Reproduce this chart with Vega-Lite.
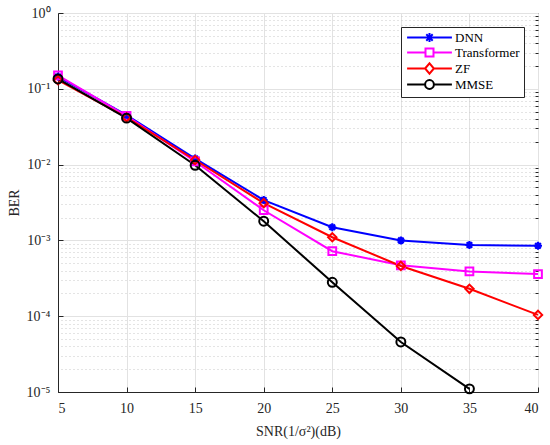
{
  "$schema": "https://vega.github.io/schema/vega-lite/v6.json",
  "width": 480,
  "height": 379,
  "autosize": {"type": "none"},
  "padding": {"left": 58, "top": 13, "right": 12, "bottom": 53},
  "background": "white",
  "data": {
    "values": [
      {"method": "DNN", "snr": 5, "ber": 0.145},
      {"method": "DNN", "snr": 10, "ber": 0.045},
      {"method": "DNN", "snr": 15, "ber": 0.012},
      {"method": "DNN", "snr": 20, "ber": 0.0034},
      {"method": "DNN", "snr": 25, "ber": 0.00149},
      {"method": "DNN", "snr": 30, "ber": 0.001},
      {"method": "DNN", "snr": 35, "ber": 0.00087},
      {"method": "DNN", "snr": 40, "ber": 0.00085},
      {"method": "Transformer", "snr": 5, "ber": 0.15},
      {"method": "Transformer", "snr": 10, "ber": 0.044},
      {"method": "Transformer", "snr": 15, "ber": 0.011},
      {"method": "Transformer", "snr": 20, "ber": 0.0025},
      {"method": "Transformer", "snr": 25, "ber": 0.00072},
      {"method": "Transformer", "snr": 30, "ber": 0.00047},
      {"method": "Transformer", "snr": 35, "ber": 0.00039},
      {"method": "Transformer", "snr": 40, "ber": 0.00036},
      {"method": "ZF", "snr": 5, "ber": 0.13},
      {"method": "ZF", "snr": 10, "ber": 0.042},
      {"method": "ZF", "snr": 15, "ber": 0.0115},
      {"method": "ZF", "snr": 20, "ber": 0.0031},
      {"method": "ZF", "snr": 25, "ber": 0.0011},
      {"method": "ZF", "snr": 30, "ber": 0.00046},
      {"method": "ZF", "snr": 35, "ber": 0.00023},
      {"method": "ZF", "snr": 40, "ber": 0.000104},
      {"method": "MMSE", "snr": 5, "ber": 0.135},
      {"method": "MMSE", "snr": 10, "ber": 0.041},
      {"method": "MMSE", "snr": 15, "ber": 0.0098},
      {"method": "MMSE", "snr": 20, "ber": 0.00179},
      {"method": "MMSE", "snr": 25, "ber": 0.00028},
      {"method": "MMSE", "snr": 30, "ber": 0.0000457},
      {"method": "MMSE", "snr": 35, "ber": 0.000011}
    ]
  },
  "layer": [
    {
      "mark": {"type": "point", "opacity": 0},
      "encoding": {
        "x": {"field": "snr", "type": "quantitative", "scale": {"domain": [5, 40], "nice": false, "zero": false}},
        "y": {
          "field": "ber",
          "type": "quantitative",
          "scale": {"type": "log", "domain": [0.00001, 1], "nice": false},
          "axis": {
            "orient": "right",
            "values": [0.00002, 0.00003, 0.00004, 0.00005, 0.00006, 0.00007, 0.00008, 0.00009,
                       0.0002, 0.0003, 0.0004, 0.0005, 0.0006, 0.0007, 0.0008, 0.0009,
                       0.002, 0.003, 0.004, 0.005, 0.006, 0.007, 0.008, 0.009,
                       0.02, 0.03, 0.04, 0.05, 0.06, 0.07, 0.08, 0.09,
                       0.2, 0.3, 0.4, 0.5, 0.6, 0.7, 0.8, 0.9],
            "labels": false,
            "title": null,
            "domain": false,
            "grid": true,
            "gridColor": "#c8c8c8",
            "gridDash": [1, 3],
            "gridWidth": 1,
            "ticks": true,
            "tickSize": -3,
            "tickColor": "#262626"
          }
        }
      }
    },
    {
      "mark": {"type": "line", "strokeWidth": 2},
      "encoding": {
        "x": {
          "field": "snr",
          "type": "quantitative",
          "scale": {"domain": [5, 40], "nice": false, "zero": false},
          "axis": {
            "values": [5, 10, 15, 20, 25, 30, 35, 40],
            "title": "SNR(1/σ²)(dB)",
            "grid": true,
            "gridColor": "#e2e2e2",
            "tickSize": -5,
            "labelPadding": 14,
            "titlePadding": 9
          }
        },
        "y": {
          "field": "ber",
          "type": "quantitative",
          "scale": {"type": "log", "domain": [0.00001, 1], "nice": false},
          "axis": {
            "values": [0.00001, 0.0001, 0.001, 0.01, 0.1, 1],
            "labelExpr": "['10⁰','10⁻¹','10⁻²','10⁻³','10⁻⁴','10⁻⁵'][round(-log(datum.value)/LN10)]",
            "title": "BER",
            "grid": true,
            "gridColor": "#e2e2e2",
            "tickSize": -5,
            "labelPadding": 13,
            "titlePadding": 5
          }
        },
        "color": {
          "field": "method",
          "type": "nominal",
          "scale": {
            "domain": ["DNN", "Transformer", "ZF", "MMSE"],
            "range": ["#0000ff", "#ff00ff", "#ff0000", "#000000"]
          },
          "legend": {
            "title": null,
            "orient": "top-right",
            "offset": 14,
            "strokeColor": "#262626",
            "fillColor": "white",
            "padding": 4,
            "cornerRadius": 0,
            "symbolSize": 64,
            "symbolOffset": 18,
            "symbolStrokeWidth": 2,
            "labelOffset": 19,
            "labelFontSize": 13,
            "labelColor": "black",
            "rowPadding": -2,
            "encode": {
              "symbols": {
                "update": {
                  "shape": {"signal": "datum.value === 'DNN' ? 'M-5.6,0H5.6M-1.1,0H1.1M0,-1.1V1.1M-0.8,-0.8L0.8,0.8M-0.8,0.8L0.8,-0.8' : datum.value === 'Transformer' ? 'M-5.6,0H-1M1,0H5.6M-1,-1H1V1H-1Z' : datum.value === 'ZF' ? 'M-5.6,0H-1.1M1.1,0H5.6M-1.1,0L0,-1.3L1.1,0L0,1.3Z' : 'M-5.6,0H-1.1M1.1,0H5.6M-1.1,0A1.1,1.1,0,1,0,1.1,0A1.1,1.1,0,1,0,-1.1,0'"},
                  "stroke": {"signal": "scale('color', datum.value)"},
                  "fill": {"value": "transparent"},
                  "strokeWidth": {"value": 2},
                  "opacity": {"value": 1}
                }
              }
            }
          }
        }
      }
    },
    {
      "transform": [{"filter": "datum.method === 'DNN'"}],
      "mark": {"type": "point", "strokeWidth": 2.2, "size": 64, "filled": false, "opacity": 1, "color": "#0000ff", "shape": "M-1,0H1M0,-1V1M-0.7,-0.7L0.7,0.7M-0.7,0.7L0.7,-0.7"},
      "encoding": {
        "x": {"field": "snr", "type": "quantitative"},
        "y": {"field": "ber", "type": "quantitative", "axis": null}
      }
    },
    {
      "transform": [{"filter": "datum.method === 'Transformer'"}],
      "mark": {"type": "point", "strokeWidth": 2, "size": 60, "filled": false, "opacity": 1, "color": "#ff00ff", "shape": "square"},
      "encoding": {
        "x": {"field": "snr", "type": "quantitative"},
        "y": {"field": "ber", "type": "quantitative", "axis": null}
      }
    },
    {
      "transform": [{"filter": "datum.method === 'ZF'"}],
      "mark": {"type": "point", "strokeWidth": 2, "size": 70, "filled": false, "opacity": 1, "color": "#ff0000", "shape": "diamond"},
      "encoding": {
        "x": {"field": "snr", "type": "quantitative"},
        "y": {"field": "ber", "type": "quantitative", "axis": null}
      }
    },
    {
      "transform": [{"filter": "datum.method === 'MMSE'"}],
      "mark": {"type": "point", "strokeWidth": 2, "size": 80, "filled": false, "opacity": 1, "color": "#000000", "shape": "circle"},
      "encoding": {
        "x": {"field": "snr", "type": "quantitative"},
        "y": {"field": "ber", "type": "quantitative", "axis": null}
      }
    }
  ],
  "resolve": {"axis": {"y": "independent"}},
  "config": {
    "font": "Liberation Serif",
    "view": {"stroke": "#262626", "strokeWidth": 1},
    "axis": {
      "domainColor": "#262626",
      "tickColor": "#262626",
      "labelColor": "#262626",
      "titleColor": "#262626",
      "labelFont": "Liberation Serif",
      "titleFont": "Liberation Serif",
      "labelFontSize": 14,
      "titleFontSize": 14,
      "titleFontWeight": "normal"
    },
    "legend": {"labelFont": "Liberation Serif"}
  }
}
